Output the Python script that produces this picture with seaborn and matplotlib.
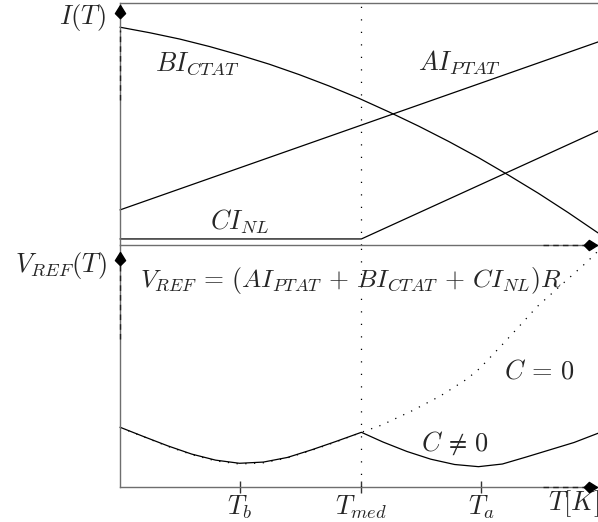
import matplotlib
matplotlib.use("Agg")
import matplotlib.pyplot as plt
from matplotlib.path import Path
import seaborn as sns

# ---- temperature axis (arbitrary units) ----
T_B = 1.0
T_MED = 2.02
T_A = 3.02
T_MAX = 4.0
tick_positions = [T_B, T_MED, T_A]
tick_labels = [r"$T_b$", r"$T_{med}$", r"$T_a$"]

# ---- currents (upper panel) ----
t_ctat = [0.0, 0.25, 0.5, 0.75, 1.0, 1.25, 1.5, 1.75, 2.0, 2.25, 2.5, 2.75,
          3.0, 3.25, 3.5, 3.75, 4.0]
bi_ctat = [9.00, 8.77, 8.51, 8.20, 7.85, 7.47, 7.04, 6.57, 6.06, 5.50, 4.91,
           4.28, 3.61, 2.89, 2.14, 1.34, 0.50]

t_ptat = [0.0, 4.0]
ai_ptat = [1.45, 8.39]

t_nl = [0.0, 2.02, 4.0]
ci_nl = [0.25, 0.25, 4.71]

# ---- reference voltage (lower panel) ----
t_vc = [0.0, 0.2, 0.4, 0.6, 0.8, 1.0, 1.2, 1.4, 1.6, 1.8, 2.02,
        2.2, 2.4, 2.6, 2.8, 3.0, 3.2, 3.4, 3.6, 3.8, 4.0]
v_c_nonzero = [2.47, 2.08, 1.70, 1.36, 1.11, 0.98, 1.03, 1.22, 1.53, 1.87, 2.26,
               1.86, 1.47, 1.15, 0.93, 0.84, 0.95, 1.24, 1.54, 1.84, 2.22]

t_v0 = [0.0, 0.2, 0.4, 0.6, 0.8, 1.0, 1.2, 1.4, 1.6, 1.8, 2.02,
        2.19, 2.44, 2.68, 2.90, 3.01, 3.21, 3.35, 3.49, 3.77, 3.91, 4.0]
v_c_zero = [2.46, 2.07, 1.68, 1.34, 1.08, 0.95, 1.00, 1.20, 1.51, 1.85, 2.26,
            2.56, 3.14, 3.76, 4.45, 4.90, 5.94, 6.69, 7.45, 8.69, 9.31, 9.75]

sns.set_theme(style="white")
plt.rcParams["mathtext.fontset"] = "cm"
plt.rcParams["font.family"] = ["DejaVu Serif"]

FS = 19
AXIS_GREY = "#6e6e6e"
LW = 0.9

fig = plt.figure(figsize=(5.98, 5.22), dpi=100)
W, H = 598.0, 522.0
ax_top = fig.add_axes([120 / W, 1 - 245 / H, 478 / W, 242 / H])
ax_bot = fig.add_axes([120 / W, 1 - 487 / H, 478 / W, 242 / H])

for ax in (ax_top, ax_bot):
    ax.set_facecolor("none")
    ax.set_xlim(0, T_MAX)
    ax.set_ylim(0, 10)
    ax.set_yticks([])
    ax.spines["right"].set_visible(False)
    for s in ("left", "bottom", "top"):
        ax.spines[s].set_color(AXIS_GREY)
        ax.spines[s].set_linewidth(1.0)
    ax.axvline(T_MED, color="black", lw=LW, linestyle=(0, (1, 9)), zorder=1)

ax_bot.spines["top"].set_visible(False)
ax_top.set_xticks([])

# upper panel curves
sns.lineplot(x=t_ctat, y=bi_ctat, ax=ax_top, color="black", lw=LW,
             estimator=None, sort=False, clip_on=False)
sns.lineplot(x=t_ptat, y=ai_ptat, ax=ax_top, color="black", lw=LW,
             estimator=None, sort=False, clip_on=False)
sns.lineplot(x=t_nl, y=ci_nl, ax=ax_top, color="black", lw=LW,
             estimator=None, sort=False, clip_on=False)

# lower panel curves
sns.lineplot(x=t_v0, y=v_c_zero, ax=ax_bot, color="black", lw=LW,
             linestyle=(0, (1, 6)), estimator=None, sort=False, clip_on=False)
sns.lineplot(x=t_vc, y=v_c_nonzero, ax=ax_bot, color="black", lw=LW,
             estimator=None, sort=False, clip_on=False)

# temperature ticks
ax_bot.set_xticks(tick_positions)
ax_bot.set_xticklabels(tick_labels, fontsize=FS)
ax_bot.tick_params(axis="x", direction="inout", length=9, width=1.0,
                   color="#333333", pad=0, bottom=True)

# axis arrowheads
up_head = Path([(0, 0), (5, -8), (0, -13), (-5, -8), (0, 0)],
               [Path.MOVETO, Path.LINETO, Path.LINETO, Path.LINETO, Path.CLOSEPOLY])
right_head = Path([(0, 0), (-8, 5), (-13, 0), (-8, -5), (0, 0)],
                  [Path.MOVETO, Path.LINETO, Path.LINETO, Path.LINETO, Path.CLOSEPOLY])
for ax, ytip in ((ax_top, 9.9), (ax_bot, 9.7)):
    ax.plot([0], [ytip], marker=up_head, markersize=19, color="black",
            clip_on=False, zorder=6, linestyle="none")
    ax.plot([T_MAX - 0.005], [0], marker=right_head, markersize=19,
            color="black", clip_on=False, zorder=6, linestyle="none")

# darker dashed stretches along the axis lines
ax_top.plot([0, 0], [6.0, 8.9], color="#222222", lw=1.0,
            linestyle=(0, (4, 3)), clip_on=False, zorder=4)
ax_bot.plot([0, 0], [6.1, 9.2], color="#222222", lw=1.0,
            linestyle=(0, (4, 3)), clip_on=False, zorder=4)
for ax in (ax_top, ax_bot):
    ax.plot([3.54, 3.92], [0, 0], color="#222222", lw=1.0,
            linestyle=(0, (4, 3)), clip_on=False, zorder=4)

# labels
ax_top.text(-0.12, 9.42, r"$I(T)$", fontsize=FS, ha="right", va="center")
ax_top.text(0.65, 7.48, r"$BI_{CTAT}$", fontsize=FS, ha="center", va="center")
ax_top.text(2.84, 7.52, r"$AI_{PTAT}$", fontsize=FS, ha="center", va="center")
ax_top.text(1.0, 0.95, r"$CI_{NL}$", fontsize=FS, ha="center", va="center")

ax_bot.text(-0.11, 9.17, r"$V_{REF}(T)$", fontsize=FS, ha="right", va="center")
ax_bot.text(1.93, 8.55,
            r"$V_{REF}\,=\,(AI_{PTAT}\,+\,BI_{CTAT}\,+\,CI_{NL})R$",
            fontsize=18.5, ha="center", va="center")
ax_bot.text(3.51, 4.79, r"$C\,=\,0$", fontsize=FS, ha="center", va="center")
ax_bot.text(2.80, 1.82, r"$C\,\neq\,0$", fontsize=FS, ha="center", va="center")
ax_bot.text(3.58, -0.68, r"$T[K]$", fontsize=FS, ha="left", va="center",
            clip_on=False)

fig.savefig("out.png", dpi=100)
